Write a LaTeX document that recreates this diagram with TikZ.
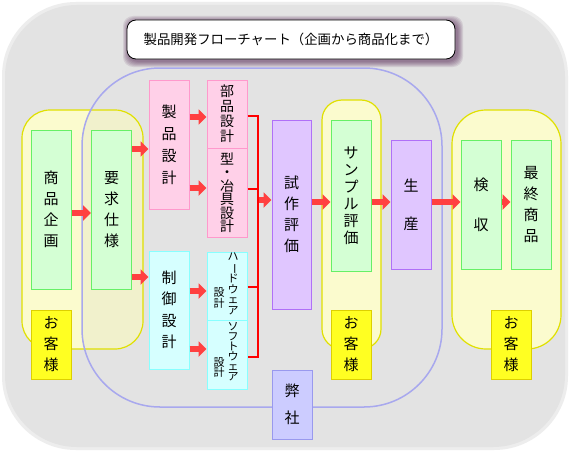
\documentclass[tikz,border=0pt]{standalone}
\usepackage{fontspec}
\setmainfont{Noto Sans CJK JP}
\usepackage{graphicx}
\usetikzlibrary{arrows.meta,calc}
\definecolor{bggray}{HTML}{E3E3E3}
\definecolor{bgedge}{HTML}{EDEDED}
\definecolor{blueline}{HTML}{A8A8EE}
\definecolor{yfill}{HTML}{FBFBCE}
\definecolor{yfilltint}{HTML}{F1F1CC}
\definecolor{ystroke}{HTML}{E0E000}
\definecolor{gfill}{HTML}{D4FFD4}
\definecolor{gstroke}{HTML}{66F066}
\definecolor{kfill}{HTML}{FFFF22}
\definecolor{kstroke}{HTML}{DDD000}
\definecolor{pfill}{HTML}{FFD0E8}
\definecolor{pstroke}{HTML}{FF99CC}
\definecolor{cfill}{HTML}{D6FFFF}
\definecolor{cstroke}{HTML}{88FFFF}
\definecolor{vfill}{HTML}{E0C6FF}
\definecolor{vstroke}{HTML}{B070F8}
\definecolor{hfill}{HTML}{CCCCFF}
\definecolor{hstroke}{HTML}{9999EE}
\definecolor{arrowred}{HTML}{FF4040}
\definecolor{shadowc}{HTML}{4A1A4A}
\newcommand\jvf[2]{\fontsize{#1}{#2}\selectfont\lineskiplimit=-\maxdimen}
\tikzset{
  basebox/.style={line width=1pt, minimum width=40pt, inner sep=0pt, align=center},
  gbox/.style={basebox, draw=gstroke, fill=gfill},
  kbox/.style={basebox, draw=kstroke, fill=kfill, minimum height=69pt, font=\jvf{15}{21}},
  pbox/.style={basebox, draw=pstroke, fill=pfill},
  cbox/.style={basebox, draw=cstroke, fill=cfill},
  vbox/.style={basebox, draw=vstroke, fill=vfill},
  hbox/.style={basebox, draw=hstroke, fill=hfill},
  redarrow/.style={draw=arrowred, line width=6pt, -{Triangle[length=8pt,width=15pt]}},
  bus/.style={draw=red, line width=2pt},
  region/.style={line width=1.2pt}
}
\begin{document}
\begin{tikzpicture}[x=1pt,y=-1pt]
\useasboundingbox (0,0) rectangle (572,452);
\fill[white] (0,0) rectangle (572,452);
% outer background
\draw[bgedge, line width=4pt, rounded corners=72pt] (4,4) rectangle (566,448);
\fill[bggray, rounded corners=72pt] (5,5) rectangle (565,447);
% title shadow and box
\foreach \d in {6,5,4,3,2,1}{
  \fill[shadowc, opacity=0.11, rounded corners=10pt] (127+2-\d,20+2-\d) rectangle (455+2+\d,59+2+\d);
}
\node[draw=black, fill=white, line width=0.8pt, rounded corners=9pt, minimum width=328pt, minimum height=39pt, inner sep=0pt, font=\fontsize{13.4}{16}\selectfont] (title) at (291,39.5) {製品開発フローチャート（企画から商品化まで）};
% left yellow region
\fill[yfill, rounded corners=28pt] (22,110) rectangle (143,349);
\begin{scope}
  \clip[rounded corners=78pt] (82,68) rectangle (442,407);
  \fill[yfilltint, rounded corners=28pt] (22,110) rectangle (143,349);
\end{scope}
\draw[ystroke, region, rounded corners=28pt] (22,110) rectangle (143,349);
% company region
\draw[blueline, line width=1.5pt, rounded corners=78pt] (82,68) rectangle (442,407);
% middle and right yellow regions
\draw[ystroke, fill=yfill, region, rounded corners=20pt] (322,100) rectangle (381,349);
\draw[ystroke, fill=yfill, region, rounded corners=34pt] (452,110) rectangle (561,349);
% boxes
\node[gbox, minimum height=159pt, font=\jvf{15}{21}] (kikaku) at (51,209.5) {商\\品\\企\\画};
\node[gbox, minimum height=159pt, font=\jvf{15}{21}] (youkyu) at (111.5,209.5) {要\\求\\仕\\様};
\node[kbox] (kyaku1) at (51,344.5) {お\\客\\様};
\node[pbox, minimum height=129pt, font=\jvf{15}{22}] (seihin) at (169,144.5) {製\\品\\設\\計};
\node[pbox, minimum height=68pt, font=\jvf{14}{15}] (buhin) at (227,114) {部\\品\\設\\計};
\node[pbox, minimum height=89pt, font=\jvf{14}{13.5}] (katagu) at (227,192.5) {型\\・\\冶\\具\\設\\計};
\node[cbox, minimum height=118pt, font=\jvf{15}{21.5}] (seigyo) at (169,310) {制\\御\\設\\計};
\node[cbox, minimum height=68pt] (hard) at (227,286) {};
\node[cbox, minimum height=69pt] (soft) at (227,354.5) {};
\node[inner sep=0pt, align=center, font=\jvf{11}{10.8}] (hardk) at (233,284) {ハ\\\rotatebox[origin=c]{-90}{ー}\\ド\\ウ\\ェ\\ア};
\node[inner sep=0pt, align=center, font=\jvf{11}{10.5}] (hards) at (219,298) {設\\計};
\node[inner sep=0pt, align=center, font=\jvf{11}{10}] (softk) at (233,352) {ソ\\フ\\ト\\ウ\\ェ\\ア};
\node[inner sep=0pt, align=center, font=\jvf{11}{10.5}] (softs) at (219,367.5) {設\\計};
\node[vbox, minimum width=39pt, minimum height=189pt, font=\jvf{15}{21}] (shisaku) at (291.5,214.5) {試\\作\\評\\価};
\node[hbox, minimum height=69pt, font=\jvf{15}{27}] (heisha) at (292,404.5) {弊\\社};
\node[gbox, minimum height=151pt, font=\jvf{15}{17}] (sample) at (351,195.5) {サ\\ン\\プ\\ル\\評\\価};
\node[kbox] (kyaku2) at (351,344.5) {お\\客\\様};
\node[vbox, minimum height=129pt, font=\jvf{15}{38}] (seisan) at (411,204.5) {生\\産};
\node[gbox, minimum height=129pt, font=\jvf{15}{40}] (kenshu) at (481,204.5) {検\\収};
\node[gbox, minimum height=129pt, font=\jvf{15}{21}] (saishu) at (531,204.5) {最\\終\\商\\品};
\node[kbox] (kyaku3) at (511,344.5) {お\\客\\様};
% arrows
\draw[redarrow] ([yshift=-3.5pt]kikaku.east) -- ([yshift=-3.5pt]kikaku.east -| youkyu.west);
\draw[redarrow] ([yshift=-4.5pt]seihin.west -| youkyu.east) -- ([yshift=-4.5pt]seihin.west);
\draw[redarrow] ([yshift=33pt]seigyo.west -| youkyu.east) -- ([yshift=33pt]seigyo.west);
\draw[redarrow] ([yshift=-3pt]buhin.west -| seihin.east) -- ([yshift=-3pt]buhin.west);
\draw[redarrow] ([yshift=4.5pt]katagu.west -| seihin.east) -- ([yshift=4.5pt]katagu.west);
\draw[redarrow] ([yshift=-5pt]hard.west -| seigyo.east) -- ([yshift=-5pt]hard.west);
\draw[redarrow] ([yshift=5.5pt]soft.west -| seigyo.east) -- ([yshift=5.5pt]soft.west);
% bus
\coordinate (btop) at (258,116);
\coordinate (bbot) at (258,357);
\coordinate (bmid) at (258,200);
\draw[bus] ([yshift=-2pt]buhin.east) -- (btop) -- (bbot) -- ([yshift=-2.5pt]soft.east);
\draw[bus] ([yshift=3.5pt]katagu.east) -- ([yshift=3.5pt]katagu.east -| btop);
\draw[bus] ([yshift=-1pt]hard.east) -- ([yshift=-1pt]hard.east -| btop);
\draw[redarrow] ([xshift=1pt]bmid) -- (bmid -| shisaku.west);
\draw[redarrow] ([yshift=12.5pt]shisaku.east) -- ([yshift=12.5pt]shisaku.east -| sample.west);
\draw[redarrow] ([yshift=-6.5pt]sample.east) -- ([yshift=-6.5pt]sample.east -| seisan.west);
\draw[redarrow] ([yshift=2.5pt]seisan.east) -- ([yshift=2.5pt]seisan.east -| kenshu.west);
\draw[redarrow] ([yshift=2.5pt]kenshu.east) -- ([yshift=2.5pt]kenshu.east -| saishu.west);
\end{tikzpicture}
\end{document}
